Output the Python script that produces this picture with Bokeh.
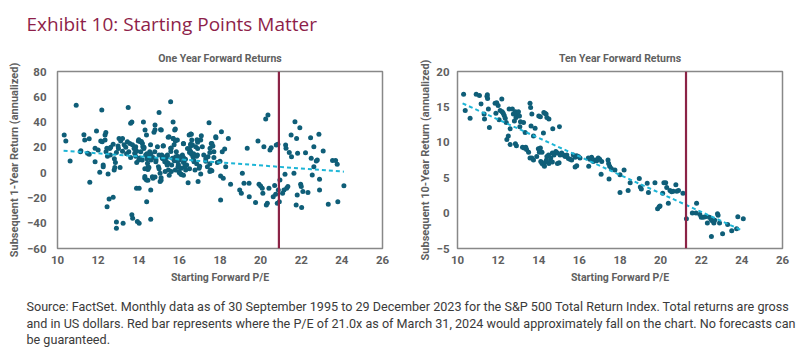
from bokeh.plotting import figure
from bokeh.models import Range1d, FixedTicker, Span, Label
from bokeh.layouts import column, row
from bokeh.embed import file_html
from bokeh.resources import INLINE

# ---------------- data ----------------
one_pe = [10.33,10.41,10.62,10.92,11.15,11.13,11.3,11.34,11.56,11.48,11.56,11.59,11.92,11.85,11.85,12.0,12.08,12.13,12.18,12.2,
          12.25,12.25,12.34,12.34,12.38,12.39,12.43,12.46,12.49,12.44,12.54,12.57,12.62,12.74,12.74,12.79,12.82,12.85,12.9,12.9,
          12.98,13.03,13.08,13.11,13.2,13.23,13.28,13.36,13.44,13.48,13.51,13.56,13.6,13.66,13.66,13.7,13.69,13.77,13.8,13.85,
          13.89,13.93,13.98,14.02,14.0,14.02,14.08,14.1,14.18,14.23,14.26,14.3,14.31,14.34,14.38,14.38,14.39,14.43,14.46,14.48,
          14.54,14.59,14.59,14.67,14.7,14.75,14.79,14.8,14.84,14.92,14.97,15.0,15.05,15.05,15.11,15.13,15.16,15.21,15.28,15.33,
          15.38,15.41,15.46,15.49,15.57,15.57,15.62,15.66,15.69,15.7,15.74,15.77,15.82,15.85,15.9,15.93,15.98,16.0,16.07,16.1,
          16.15,16.2,16.23,16.26,16.31,16.36,16.43,16.48,16.51,16.56,16.59,16.61,16.64,16.67,16.72,16.77,16.8,16.89,16.92,16.97,
          17.05,17.08,17.13,17.05,17.38,17.41,17.46,17.51,17.54,17.57,17.7,17.79,17.87,18.03,18.03,18.07,18.11,18.16,18.23,18.28,
          18.41,18.52,18.97,19.05,19.1,19.18,19.34,19.43,19.44,19.75,19.87,19.92,20.0,20.08,20.11,20.16,20.25,20.28,20.33,20.36,
          20.41,20.46,20.52,20.62,20.69,20.74,20.77,20.82,20.85,20.87,20.92,20.95,21.08,21.15,21.2,21.23,21.25,21.28,21.34,21.41,
          21.5,21.52,21.64,21.69,21.75,21.77,21.8,21.82,21.93,21.97,22.0,22.02,22.08,22.21,22.33,22.46,22.49,22.54,22.62,22.62,
          22.74,22.79,22.87,22.9,22.9,23.08,23.33,23.54,23.69,23.77,23.8,24.1,
          14.8,15.07,15.8,16.56,15.45,15.69,15.8,14.0,14.13,17.8,16.87,16.9,16.2,17.6,17.65,14.2,14.25,14.58,15.2,15.6,
          16.56,16.9,13.85,13.9,15.58,16.5,16.6,16.85,16.7,17.5,14.4,14.5,14.6,15.0,15.15,15.4,15.9,16.05,16.2,13.85,
          14.05,14.17,14.4,14.6,14.7,14.85,15.2,15.35,15.45,15.4,15.9,15.95,16.0,16.2,16.3,16.5,16.7,16.85,17.0,17.3,
          17.5,17.7,18.0,14.3,14.5,14.45,15.0,15.3,15.6,15.8,16.0,16.1,16.2,17.5,17.6,14.3,14.45,14.8,15.1,15.1,
          15.5,13.0,13.2,13.4,12.9,13.6,13.9,12.6,12.8,16.4,16.55,17.2,17.3,16.3,15.75]
one_ret = [29.7,25,9.2,53.4,17.4,16.6,30,25.8,26.8,15.3,14.5,-7.6,32.9,19.2,8.7,17.9,0.3,25,49.5,24.5,
           6,4.7,25.8,29.7,31.8,16.6,19.2,13,-1,-27,-20.8,19,20,22.4,-19.5,2,4,8,-39,-44,
           21,27,4,25,27,-40,22,20,24.5,51.6,16.6,23,39,40,-33.4,-36,22,19,15.3,20.5,
           -12.4,-38.7,25,-40,10,-12.4,24.5,16.6,23,40,20,-4.5,33.7,14,29.7,-5.8,-23,7.4,4.7,12.6,
           16.6,-13.7,-36.8,-3.2,-4.5,32,16.6,37.6,8.7,20.5,4.7,47.6,-0.5,-7.1,33.7,14,11.3,21.3,8.7,12.6,
           7.4,14,2,28.4,56,19.2,6,11.3,40,27,22,33.7,12.6,16.6,25.8,4.7,0.8,10,-1,3.4,
           14,23,8.7,4.7,2,6,-7.9,29.7,17.9,16.6,30.3,25.8,22,12.6,8.7,2,20.5,14,-7.1,3.4,
           25.8,29.2,20.5,-1,4.7,12.6,39.5,19.2,2,23,16.6,28.4,8,-21.6,-2.6,32.4,16.6,-4.5,18.7,4.7,
           27,-9.2,-13.7,-16.3,-0.5,-8.4,19.2,-8.4,-19,-23.7,25,-9.2,-10.5,-12.4,-16.3,20.5,42.4,-25.5,-24.2,45.5,
           -12.4,17.9,19.7,-19,-10.2,-17.1,21.8,-24.2,22.4,-13.7,-23,-5.8,-16.3,-13.7,-1.3,21.8,19.2,-12.4,-11,16,
           29.7,12.6,-0.5,40.3,-25.5,27,-17.6,15.3,35.5,-9.2,-11,-27.6,-15,15.8,-15.8,27.6,11.3,-1.8,20.5,4.7,
           9.2,10,30.3,-5.3,-13.7,17.1,-25,9.7,9.7,6.6,-23,-10.3,
           34,34,34.5,30.5,28,27,25,26,24.7,27.6,26,24,22.9,23,21,20.5,19,22,21,19.4,
           21,19,18,17,16.8,16,14.5,13,15,16,15,13.5,14.8,14,13.2,12.6,13,12.5,12,13,
           11.5,10,11,10,12,10,11,9,7.5,6,9,6.5,4,8,5.5,3,10,7,5,9,
           7,12,9,3,4,2.5,3,1,1,2,0,-1.5,-2,1,1.5,-3,-6,-3.5,-4,-6,
           -2,19,17,15,16,12,8,14,11,19,22.5,14,11,10.5,9.5]

ten_pe = [10.3,10.38,10.62,10.92,11.08,11.16,11.31,11.33,11.45,11.47,11.48,11.52,11.57,11.85,11.93,11.89,12.0,12.05,12.1,12.18,
          12.2,12.25,12.3,12.35,12.4,12.43,12.5,12.54,12.59,12.59,12.7,12.75,12.8,12.85,12.88,12.9,12.85,12.9,13.0,13.05,
          13.1,13.07,13.2,13.28,13.36,13.25,13.33,13.4,13.5,13.57,13.57,13.6,13.66,13.62,13.74,13.82,13.66,13.74,13.9,13.98,
          14.03,14.08,14.16,14.0,14.08,14.25,14.3,14.36,14.23,14.1,14.16,14.25,14.28,14.33,14.38,14.4,14.48,14.59,14.67,14.75,
          14.84,14.92,14.4,14.5,14.69,14.5,14.59,14.67,14.92,15.0,15.02,15.05,15.13,15.21,15.3,15.38,15.46,15.54,15.62,15.7,
          15.79,15.87,15.95,16.03,15.79,15.87,16.44,16.52,16.6,16.69,16.77,16.85,16.93,17.0,17.1,16.46,17.07,17.41,17.44,17.49,
          17.57,17.46,17.75,18.0,18.2,18.0,18.4,18.5,18.95,19.0,19.05,19.34,19.4,19.72,19.85,19.93,19.97,20.1,20.16,20.25,
          20.3,20.38,20.46,20.54,20.62,20.75,20.8,20.88,21.1,21.27,21.56,21.77,21.74,21.93,22.0,22.1,22.2,22.3,22.4,22.48,
          22.55,22.62,22.66,22.5,22.8,22.83,22.9,23.05,23.3,23.5,23.74,23.8,24.07]
ten_ret = [16.8,14.5,13.4,16.8,16.6,15.4,14,13.3,16.5,16.7,16.2,14.7,12.1,15.5,15.6,14.1,15.2,13.2,14.5,16.1,
           14.3,14.1,13.8,13.4,12.8,10.4,10.9,14.7,11.9,9.7,14.7,14,13,14.3,13.5,13.8,9.8,9.5,14.3,13.7,
           12.9,12.2,9.3,9.2,9.3,12.8,11.4,9,8.6,7.8,15.5,14.9,14,12.3,10.9,12,7.8,7.5,8,9.1,
           8.6,9.2,8.6,13.7,13.6,14.2,14.1,14,11.3,7.3,7,6.8,6.6,7.2,7.5,8,8.2,7.8,8.5,8.2,
           8.7,8.5,13.5,13.3,11.9,7,7.3,7.2,7,7.1,12.2,8.2,8.5,8.2,8,8.2,7.7,7.6,7.5,8.2,
           7.9,8.1,8,7.8,6.5,6.7,7.8,7.6,7.9,7.3,7.5,7.4,7.8,7.6,7.3,6.6,5.5,7.5,7,6.6,
           6.3,4.8,6.1,5.4,6.1,2.9,3.2,4.3,4.9,3.7,3.4,4.2,2.9,4.3,0.6,0.9,1.0,2.8,4.3,4.3,
           3.6,1.4,3.2,3,3.1,4,3.1,3.2,2.8,-0.8,0,1.4,0,-0.2,-0.6,-0.6,-0.5,-1.4,-0.6,-0.9,
           -1.1,-1.4,-1.0,-3.3,-0.1,-0.3,-1.4,-2.9,-1.6,-2.5,-2.2,-0.5,-0.8]

one_trend_x = [10.3, 24.1]
one_trend_y = [17.3, 0.8]
ten_trend_x = [10.25, 24.05]
ten_trend_y = [15.5, -2.5]

one_current_pe = 20.9
ten_current_pe = 21.25

x_ticks = [10, 12, 14, 16, 18, 20, 22, 24, 26]
one_y_ticks = [-60, -40, -20, 0, 20, 40, 60, 80]
ten_y_ticks = [-5, 0, 5, 10, 15, 20]

main_title = "Exhibit 10: Starting Points Matter"
foot_lines = [
    "Source: FactSet. Monthly data as of 30 September 1995 to 29 December 2023 for the S&P 500 Total Return Index. Total returns are gross",
    "and in US dollars. Red bar represents where the P/E of 21.0x as of March 31, 2024 would approximately fall on the chart. No forecasts can",
    "be guaranteed.",
]

# ---------------- styles ----------------
DOT = "#0F5E78"
TREND = "#1DB5D6"
RED = "#8B2346"
GREY = "#5F5F5F"
FONT = "Roboto"


def blank(width, height):
    f = figure(width=width, height=height, output_backend="svg", toolbar_location=None,
               title=None, x_axis_type=None, y_axis_type=None,
               min_border_left=0, min_border_right=0, min_border_top=0, min_border_bottom=0,
               x_range=Range1d(0, 1), y_range=Range1d(0, 1))
    f.grid.visible = False
    f.outline_line_color = None
    return f


def make_plot(title, xs, ys, tx, ty, cur, yticks, ylabel, yr, label_standoff, ylab_standoff):
    p = figure(width=400, height=248, output_backend="svg", toolbar_location=None,
               x_range=Range1d(10, 26), y_range=Range1d(*yr),
               min_border_left=57, min_border_right=18,
               min_border_top=31, min_border_bottom=40)
    p.title.text = title
    p.title.align = "center"
    p.title.text_font = FONT
    p.title.text_font_style = "bold"
    p.title.text_font_size = "10.5px"
    p.title.text_color = GREY
    p.title.standoff = 14
    p.grid.visible = False
    p.outline_line_color = "#888888"
    p.outline_line_width = 1.5
    for ax in (p.xaxis[0], p.yaxis[0]):
        ax.axis_line_color = None
        ax.major_tick_line_color = None
        ax.minor_tick_line_color = None
        ax.major_tick_out = 0
        ax.major_tick_in = 0
        ax.minor_tick_out = 0
        ax.minor_tick_in = 0
        ax.major_label_text_font = FONT
        ax.major_label_text_font_size = "11.5px"
        ax.major_label_text_font_style = "bold"
        ax.major_label_text_color = GREY
        ax.axis_label_text_font = FONT
        ax.axis_label_text_font_style = "bold"
        ax.axis_label_text_color = GREY
    p.xaxis.axis_label_text_font_size = "10.5px"
    p.yaxis.axis_label_text_font_size = "11px"
    p.xaxis.ticker = FixedTicker(ticks=x_ticks)
    p.yaxis.ticker = FixedTicker(ticks=yticks)
    p.xaxis.axis_label = "Starting Forward P/E"
    p.yaxis.axis_label = ylabel
    p.xaxis.major_label_standoff = 7
    p.yaxis.major_label_standoff = label_standoff
    p.xaxis.axis_label_standoff = 4
    p.yaxis.axis_label_standoff = ylab_standoff
    p.scatter(xs, ys, size=5, fill_color=DOT, line_color=None)
    p.line(tx, ty, line_color=TREND, line_width=2, line_dash="4 3")
    p.add_layout(Span(location=cur, dimension="height", line_color=RED, line_width=2.2))
    return p


p1 = make_plot("One Year Forward Returns", one_pe, one_ret, one_trend_x, one_trend_y,
               one_current_pe, one_y_ticks, "Subsequent 1-Year Return (annualized)", (-60, 80), 11, 3)
p2 = make_plot("Ten Year Forward Returns", ten_pe, ten_ret, ten_trend_x, ten_trend_y,
               ten_current_pe, ten_y_ticks, "Subsequent 10-Year Return (annualized)", (-5, 20), 8, 1)

top = blank(800, 40)
top.add_layout(Label(x=26, y=17, x_units="screen", y_units="screen", text=main_title,
                     text_font="Open Sans", text_font_size="19px", text_color="#8E1F4A",
                     text_baseline="middle"))

bottom = blank(800, 72)
for i, line in enumerate(foot_lines):
    bottom.add_layout(Label(x=26, y=54 - 16.5 * i, x_units="screen", y_units="screen", text=line,
                            text_font=FONT, text_font_size="12.6px", text_color="#3A3A3A",
                            text_baseline="middle"))

layout = column(top, row(p1, p2), bottom)

with open("out.html", "w") as f:
    f.write(file_html(layout, INLINE))
